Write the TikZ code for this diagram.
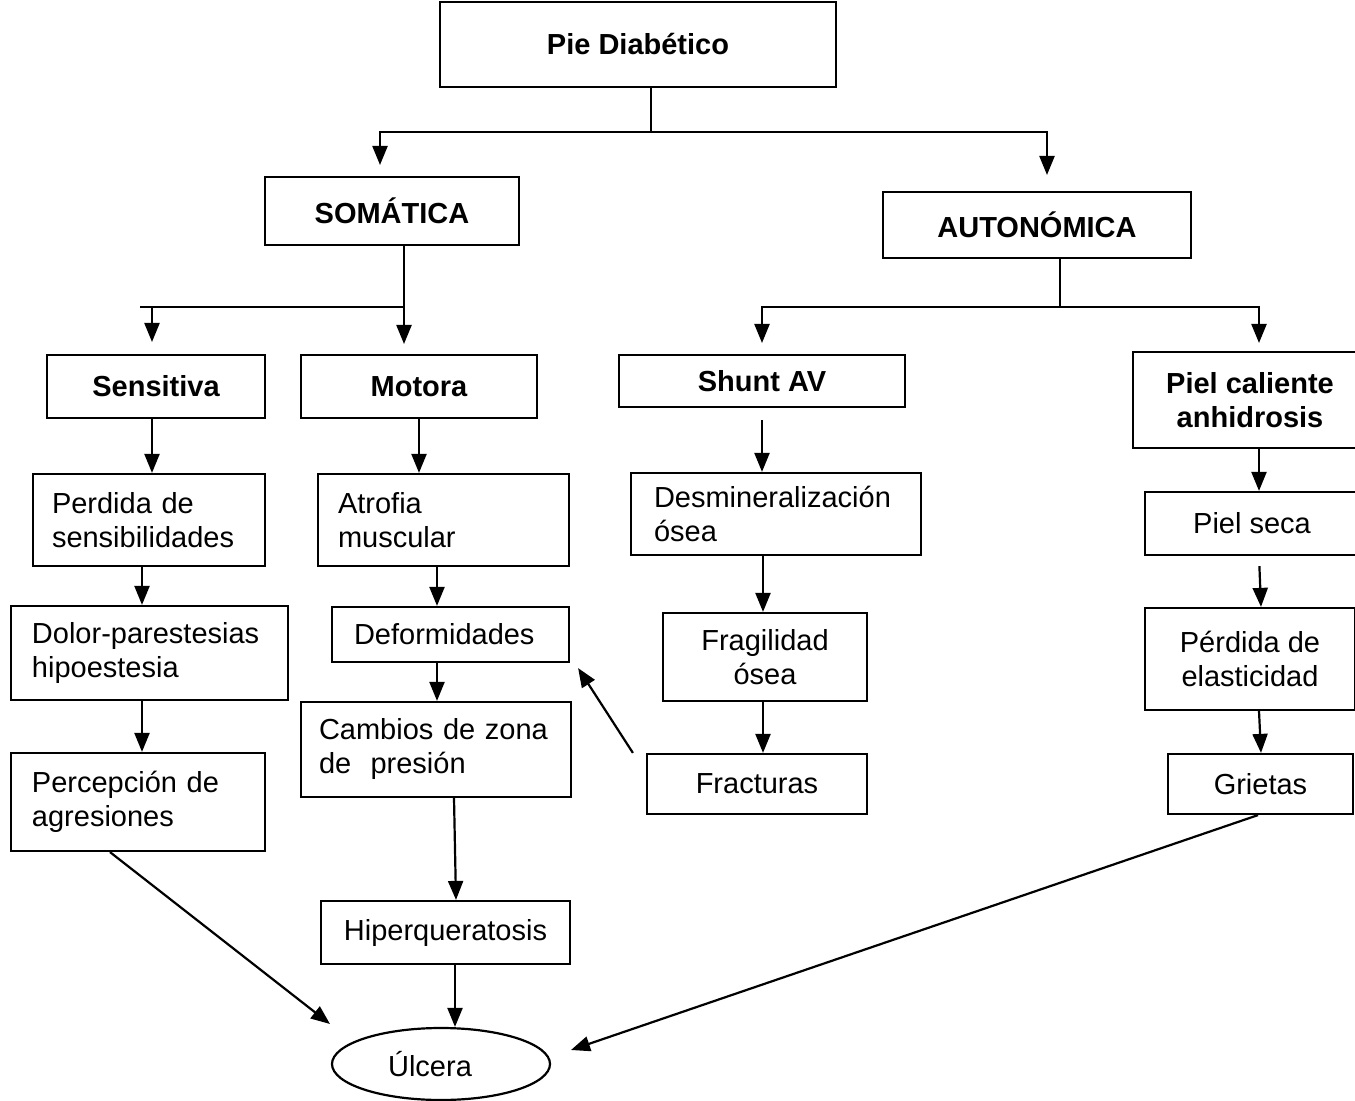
\documentclass[tikz,border=0pt]{standalone}
\usepackage{fontspec}
\setmainfont{Liberation Sans}
\usetikzlibrary{arrows.meta,shapes.geometric}
\begin{document}
\begin{tikzpicture}[x=0.5pt,y=-0.5pt,
  every node/.style={font=\fontsize{14.5}{17}\selectfont},
  box/.style={draw,line width=1.1pt,rectangle,inner sep=0pt,align=center},
  lbox/.style={draw,line width=1.1pt,rectangle,inner ysep=0pt,align=left},
  arr/.style={line width=1.1pt,-{Triangle[length=9.5pt,width=7.5pt]}},
  ln/.style={line width=1.1pt}]
\useasboundingbox (0,0) rectangle (1355,1101);
% nodes
\node[box,minimum width=198pt,minimum height=42.5pt,font=\fontsize{14.5}{17}\selectfont\bfseries] (pie) at (638,44.5) {Pie Diabético};
\node[box,minimum width=127pt,minimum height=34pt,font=\fontsize{14.5}{17}\selectfont\bfseries] (som) at (392,211) {SOMÁTICA};
\node[box,minimum width=154pt,minimum height=33pt,font=\fontsize{14.5}{17}\selectfont\bfseries] (aut) at (1037,225) {AUTONÓMICA};
\node[box,minimum width=109pt,minimum height=31.5pt,font=\fontsize{14.5}{17}\selectfont\bfseries] (sen) at (156,386.5) {Sensitiva};
\node[box,minimum width=118pt,minimum height=31.5pt,font=\fontsize{14.5}{17}\selectfont\bfseries] (mot) at (419,386.5) {Motora};
\node[box,minimum width=143pt,minimum height=26pt,font=\fontsize{14.5}{17}\selectfont\bfseries] (shu) at (762,381) {Shunt AV};
\node[box,minimum width=117pt,minimum height=48pt,font=\fontsize{14.5}{17}\selectfont\bfseries] (pcal) at (1250,400) {Piel caliente\\anhidrosis};
\node[lbox,inner xsep=9.5pt,text width=97pt,minimum height=46pt] (per) at (149,520) {Perdida de\\sensibilidades};
\node[lbox,inner xsep=10pt,text width=105.5pt,minimum height=46pt] (atr) at (443.5,520) {Atrofia\\muscular};
\node[lbox,inner xsep=11.5pt,text width=122pt,minimum height=41pt] (des) at (776,514) {Desmineralización\\ósea};
\node[box,minimum width=107pt,minimum height=31.5pt] (pse) at (1252,523.5) {Piel seca};
\node[lbox,inner xsep=10.5pt,text width=117.5pt,minimum height=47pt] (dol) at (149.5,653) {Dolor-parestesias\\hipoestesia};
\node[lbox,inner xsep=11pt,text width=96.5pt,minimum height=27.5pt] (def) at (450.5,634.5) {Deformidades};
\node[box,minimum width=102pt,minimum height=44pt] (fra) at (765,657) {Fragilidad\\ósea};
\node[box,minimum width=105pt,minimum height=51pt] (pel) at (1250,659) {Pérdida de\\elasticidad};
\node[lbox,inner xsep=10.5pt,text width=106pt,minimum height=49pt] (pca) at (138,802) {Percepción de\\agresiones};
\node[lbox,inner xsep=9pt,text width=117pt,minimum height=47.5pt] (cam) at (436,749.5) {Cambios de zona\hfill\null\\de\ \ presión};
\node[box,minimum width=110pt,minimum height=30pt] (frc) at (757,784) {Fracturas};
\node[box,minimum width=92.5pt,minimum height=30pt] (gri) at (1260.5,784) {Grietas};
\node[box,minimum width=124.5pt,minimum height=31.5pt] (hip) at (445.5,932.5) {Hiperqueratosis};
\node[draw,line width=1.1pt,ellipse,inner sep=0pt,minimum width=109pt,minimum height=36pt] (ulc) at (441,1064) {Úlcera\hspace*{11pt}};
% top split
\coordinate (j1) at (651,132);
\coordinate (a1) at (380,165);
\coordinate (a2) at (1047,175);
\draw[ln] (pie.south -| j1) -- (j1);
\draw[arr] (j1) -| (a1);
\draw[arr] (j1) -| (a2);
% somatica split
\coordinate (j2) at (404,307);
\coordinate (j3) at (140,307);
\coordinate (a3) at (404,344);
\coordinate (a4) at (152,342);
\draw[arr] (som.south -| a3) -- (a3);
\draw[ln] (j3) -- (j2);
\draw[arr] (j3 -| a4) -- (a4);
% autonomica split
\coordinate (j4) at (1060,307);
\coordinate (a5) at (762,343);
\coordinate (a6) at (1259,343);
\draw[ln] (aut.south -| j4) -- (j4);
\draw[arr] (j4) -| (a5);
\draw[arr] (j4) -| (a6);
% vertical chains
\draw[arr] ([xshift=-2pt]sen.south) -- ([xshift=-2pt]sen.south |- per.north);
\draw[arr] (mot.south) -- (mot.south |- atr.north);
\draw[arr,shorten <=6pt] (shu.south) -- (shu.south |- des.north);
\draw[arr] ([xshift=4.5pt]pcal.south) -- ([xshift=4.5pt]pcal.south |- pse.north);
\draw[arr] ([xshift=-3.5pt]per.south) -- ([xshift=-3.5pt]per.south |- dol.north);
\draw[arr] ([xshift=-3.25pt]atr.south) -- ([xshift=-3.25pt]atr.south |- def.north);
\draw[arr] ([xshift=-6.5pt]des.south) -- ([xshift=-6.5pt]des.south |- fra.north);
\draw[arr,shorten <=5pt] ([xshift=3.5pt]pse.south) -- ([xshift=4.5pt]pse.south |- pel.north);
\draw[arr] ([xshift=-3.75pt]dol.south) -- ([xshift=-3.75pt]dol.south |- pca.north);
\draw[arr] ([xshift=-6.75pt]def.south) -- ([xshift=-6.75pt]def.south |- cam.north);
\draw[arr] ([xshift=-1pt]fra.south) -- ([xshift=-1pt]fra.south |- frc.north);
\draw[arr] ([xshift=4.5pt]pel.south) -- ([xshift=5.5pt]pel.south |- gri.north);
\draw[arr] ([xshift=9pt]cam.south) -- ([xshift=5.25pt]hip.north);
\draw[arr] ([xshift=4.75pt]hip.south) -- ([xshift=4.75pt]hip.south |- ulc.north);
% diagonal arrows
\draw[arr] ([xshift=-6.5pt]frc.north west) -- ([xshift=4pt,yshift=-2.5pt]def.south east);
\draw[arr] ([xshift=-14pt]pca.south) -- ([xshift=-55.5pt,yshift=20pt]ulc.center);
\draw[arr] ([xshift=-1.25pt]gri.south) -- ([xshift=65pt,yshift=7pt]ulc.center);
\end{tikzpicture}
\end{document}
